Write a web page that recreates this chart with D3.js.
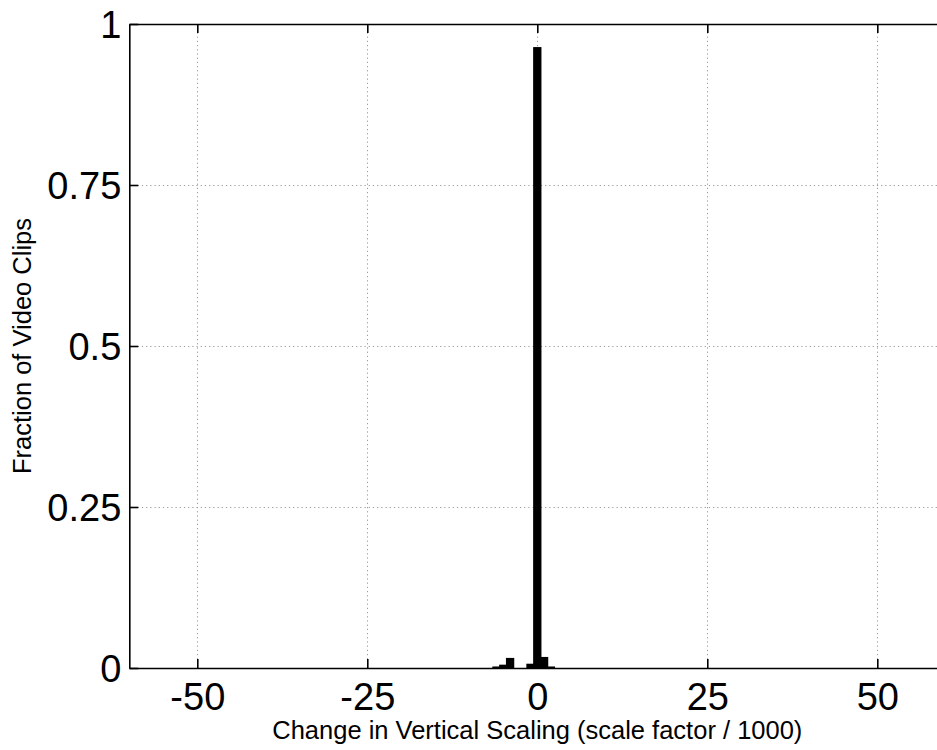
<!DOCTYPE html>
<html>
<head>
<meta charset="utf-8">
<script src="https://cdn.jsdelivr.net/npm/d3@7"></script>
<style>
  html, body { margin: 0; padding: 0; background: #fff; overflow: hidden; }
  svg { display: block; font-family: "Liberation Sans", Arial, Helvetica, sans-serif; }
</style>
</head>
<body>
<svg id="chart" width="937" height="750"></svg>
<script>
// Histogram bins (centre of each unit-wide bin) and the fraction of clips in each
const binCenters = [-6, -5, -4, -3, -2, -1, 0, 1, 2];
const fractions  = [0.0012, 0.004, 0.0145, 0, 0, 0.0055, 0.963, 0.016, 0.0012];

const xTicks = [-50, -25, 0, 25, 50];
const xTickLabels = ["-50", "-25", "0", "25", "50"];
const yTicks = [0, 0.25, 0.5, 0.75, 1];
const yTickLabels = ["0", "0.25", "0.5", "0.75", "1"];
const xDomain = [-60, 60];
const yDomain = [0, 1];
const xLabel = "Change in Vertical Scaling (scale factor / 1000)";
const yLabel = "Fraction of Video Clips";

const svg = d3.select("#chart");
const plotLeft = 129.3, plotRight = 945.3, plotTop = 24, plotBottom = 668;

const x = d3.scaleLinear().domain(xDomain).range([plotLeft, plotRight]);
const y = d3.scaleLinear().domain(yDomain).range([plotBottom, plotTop]);

// dotted grid
const grid = svg.append("g").attr("stroke", "#9a9a9a").attr("stroke-width", 1)
  .attr("stroke-dasharray", "1.2,3");
grid.selectAll("line.gx").data(xTicks).join("line")
  .attr("x1", d => Math.round(x(d)) + 0.5).attr("x2", d => Math.round(x(d)) + 0.5)
  .attr("y1", plotTop).attr("y2", plotBottom);
grid.selectAll("line.gy").data(yTicks.filter(d => d > 0 && d < 1)).join("line")
  .attr("x1", plotLeft).attr("x2", plotRight)
  .attr("y1", d => Math.round(y(d)) + 0.5).attr("y2", d => Math.round(y(d)) + 0.5);

// bars
const bw = x(1) - x(0);
svg.append("g").selectAll("rect")
  .data(binCenters.map((c, i) => ({c, v: fractions[i]})).filter(d => d.v > 0))
  .join("rect")
  .attr("x", d => x(d.c - 0.5))
  .attr("width", bw)
  .attr("y", d => y(d.v))
  .attr("height", d => y(0) - y(d.v))
  .attr("fill", "#000").attr("stroke", "#000").attr("stroke-width", 1.5);

// axes
const xAxis = d3.axisBottom(x).tickValues(xTicks).tickSize(-9).tickPadding(15).tickSizeOuter(0)
  .tickFormat((d, i) => xTickLabels[i]);
const gx = svg.append("g").attr("transform", `translate(0,${plotBottom})`).call(xAxis);
gx.selectAll("text").attr("font-size", 38).attr("fill", "#000").attr("dy", "0.71em");

const xAxisTop = d3.axisTop(x).tickValues(xTicks).tickSize(-9).tickFormat("").tickSizeOuter(0);
svg.append("g").attr("transform", `translate(0,${plotTop})`).call(xAxisTop);

const yAxis = d3.axisLeft(y).tickValues(yTicks).tickSize(-9).tickPadding(8).tickSizeOuter(0)
  .tickFormat((d, i) => yTickLabels[i]);
const gy = svg.append("g").attr("transform", `translate(${plotLeft},0)`).call(yAxis);
gy.selectAll("text").attr("font-size", 38).attr("fill", "#000").attr("dy", "0.36em");

svg.selectAll(".domain").attr("stroke", "#000").attr("stroke-width", 1.6);
svg.selectAll(".tick line").attr("stroke", "#000").attr("stroke-width", 1.6);

// axis titles
svg.append("text").attr("x", x(0)).attr("y", 739).attr("text-anchor", "middle")
  .attr("font-size", 25.5).attr("fill", "#000").text(xLabel);
svg.append("text").attr("transform", `translate(31,${(plotTop + plotBottom) / 2}) rotate(-90)`)
  .attr("text-anchor", "middle").attr("font-size", 25.5).attr("fill", "#000").text(yLabel);
</script>
</body>
</html>
